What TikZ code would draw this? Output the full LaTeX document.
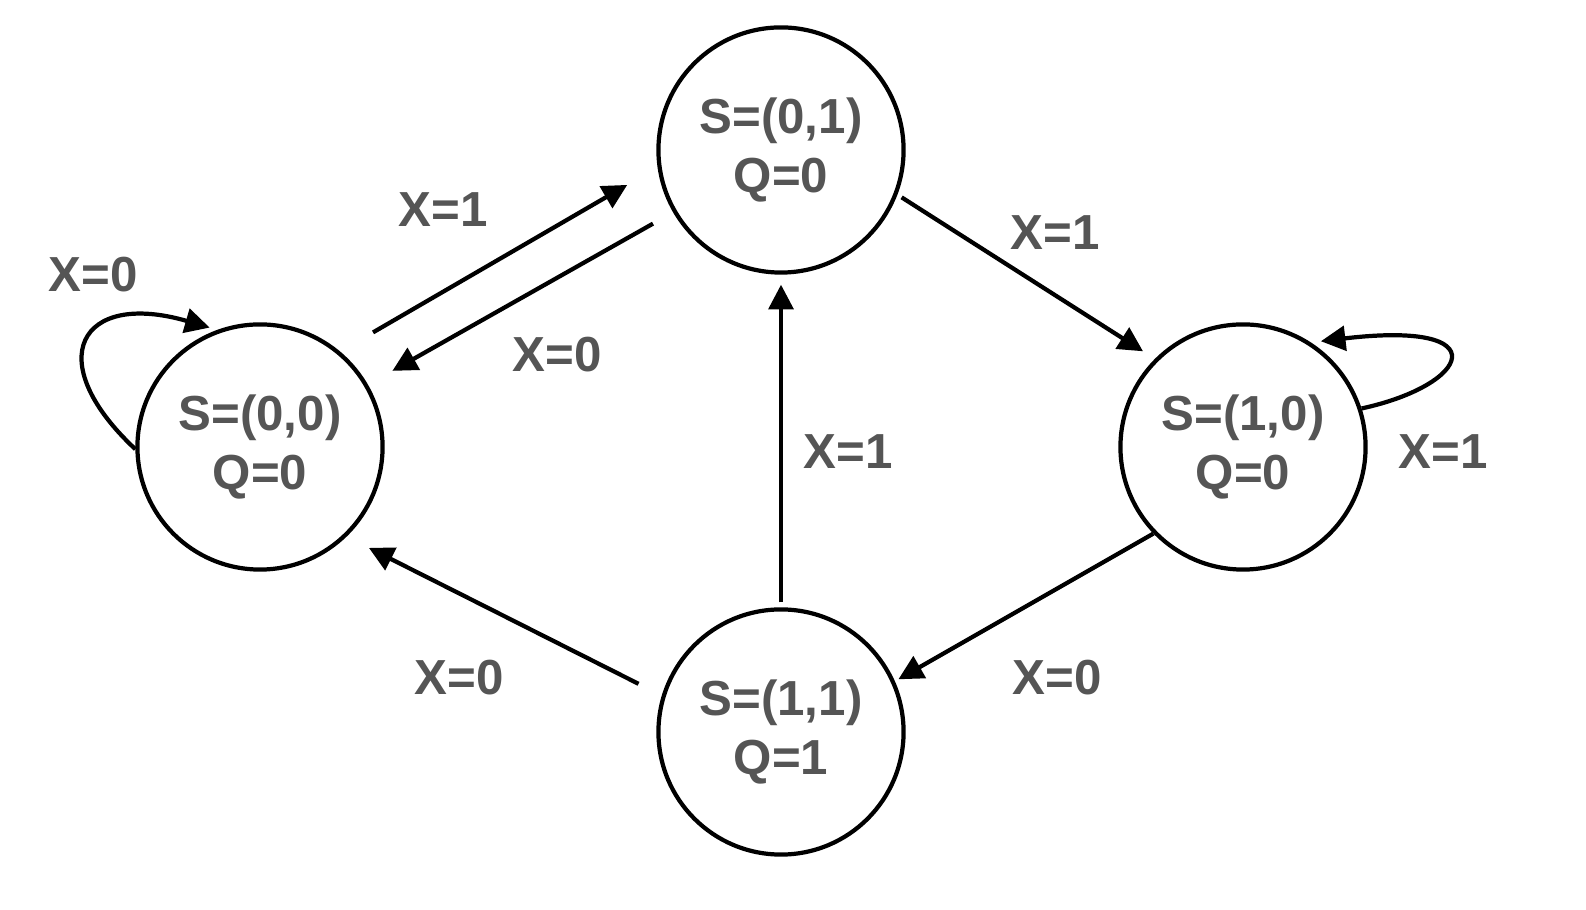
\documentclass[tikz,border=0pt]{standalone}
\usepackage{fontspec}
\setmainfont{Liberation Sans}
\usetikzlibrary{arrows.meta}
\definecolor{txtgray}{RGB}{85,85,85}

\begin{document}
\begin{tikzpicture}[x=0.01cm,y=0.01cm,
    state/.style={circle, draw, line width=1.2pt, minimum size=2.45cm, inner sep=0pt,
      font=\fontsize{14}{17}\selectfont\bfseries, text=txtgray, align=center},
    trans/.style={line width=1.2pt, -{Triangle[length=7pt,width=7pt]}},
    lbl/.style={font=\fontsize{14}{17}\selectfont\bfseries, text=txtgray}]
      \useasboundingbox (0,0) rectangle (1586,910);

      \node[state] (s00) at (260,463) {S=(0,0)\\Q=0};
      \node[state] (s01) at (781,760) {S=(0,1)\\Q=0};
      \node[state] (s10) at (1243,463) {S=(1,0)\\Q=0};
      \node[state] (s11) at (781,178) {S=(1,1)\\Q=1};

      \draw[trans, shorten <=0.38cm, shorten >=0.35cm] (s00.50.6) -- (s01.188.7);
      \draw[trans, shorten <=0.23cm, shorten >=0.28cm] (s01.210.4) -- (s00.30);
      \draw[trans, shorten <=0.05cm, shorten >=0.14cm] (s01.-21) -- (s10.135.9);
      \draw[trans, shorten >=0.04cm] (s10.224.3) -- (s11.24.1);
      \draw[trans, shorten <=0.05cm, shorten >=0.10cm] (s11.90) -- (s01.270);
      \draw[trans, shorten <=0.26cm, shorten >=0.25cm] (s11.163.6) -- (s00.-46);

      % self loops
      \draw[trans, shorten >=0.08cm] (s00.181) .. controls (40,550) and (80,620) .. (s00.110);
      \draw[trans, shorten >=0.10cm] (s10.18) .. controls (1470,525) and (1500,590) .. (s10.57);

      \node[lbl] (l1) at (443,700) {X=1};
      \node[lbl] (l2) at (557,555) {X=0};
      \node[lbl] (l3) at (93,635) {X=0};
      \node[lbl] (l4) at (1055,677) {X=1};
      \node[lbl] (l5) at (848,458) {X=1};
      \node[lbl] (l6) at (1443,458) {X=1};
      \node[lbl] (l7) at (1057,232) {X=0};
      \node[lbl] (l8) at (459,232) {X=0};
\end{tikzpicture}
\end{document}
